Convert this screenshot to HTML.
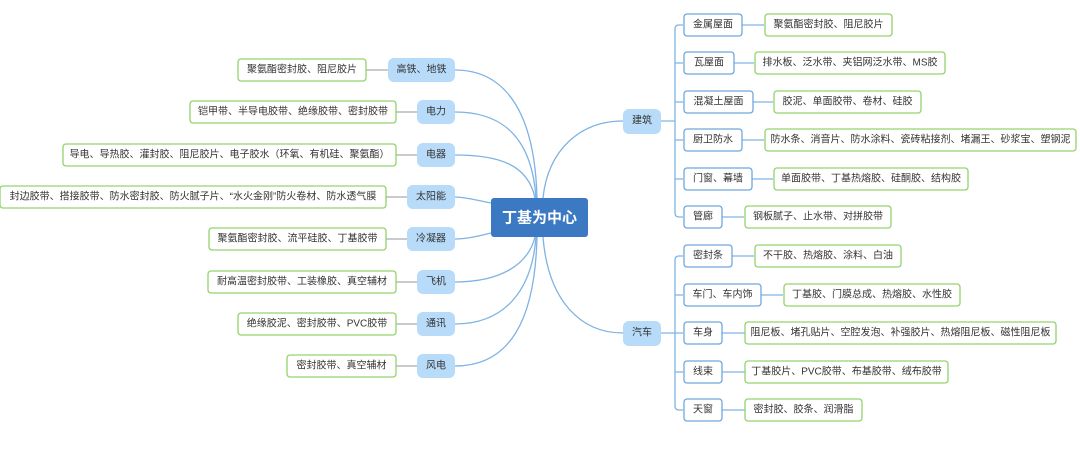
<!DOCTYPE html>
<html><head><meta charset="utf-8"><style>
html,body{margin:0;padding:0;background:#fff;}
svg{display:block;font-family:"Liberation Sans","Noto Sans CJK SC",sans-serif;}
.lf{fill:#fff;stroke:#93d36e;stroke-width:1.3;}
.sb{fill:#fff;stroke:#6fa8dc;stroke-width:1.3;}
.br{fill:#b7dbf8;}
.t{font-size:10px;fill:#333;dominant-baseline:central;text-anchor:middle;}
.c{fill:none;stroke:#7fb3e3;stroke-width:1.3;}
.g{stroke:#aaa;stroke-width:1.3;}
.bl{stroke:#7fb3e3;stroke-width:1.3;fill:none;}
</style></head><body>
<svg width="1080" height="458" viewBox="0 0 1080 458">
<path class="c" d="M537 198 C535 120 510 70 455 70"/>
<path class="c" d="M536 198 C532 140 505 112 455 112"/>
<path class="c" d="M535 198 C528 165 500 155 455 155"/>
<path class="c" d="M491 203 C475 200 465 197 455 197"/>
<path class="c" d="M491 233 C475 237 465 239 455 239"/>
<path class="c" d="M535 237 C528 265 500 282 455 282"/>
<path class="c" d="M536 237 C532 290 505 324 455 324"/>
<path class="c" d="M537 237 C535 320 510 366 455 366"/>
<path class="c" d="M543 198 C548 150 580 121 623 121"/>
<path class="c" d="M543 237 C548 300 580 333 623 333"/>
<line class="g" x1="366" y1="70" x2="388" y2="70"/>
<line class="g" x1="396" y1="112" x2="417" y2="112"/>
<line class="g" x1="396" y1="155" x2="417" y2="155"/>
<line class="g" x1="386" y1="197" x2="407" y2="197"/>
<line class="g" x1="386" y1="239" x2="407" y2="239"/>
<line class="g" x1="396" y1="282" x2="417" y2="282"/>
<line class="g" x1="396" y1="324" x2="417" y2="324"/>
<line class="g" x1="396" y1="366" x2="417" y2="366"/>
<path class="bl" d="M661 121 H675 M683 25 H679 Q675 25 675 29 V213 Q675 217 679 217 H683 M675 63 H683 M675 102 H683 M675 140 H683 M675 179 H683"/>
<path class="bl" d="M661 333 H675 M683 256 H679 Q675 256 675 260 V406 Q675 410 679 410 H683 M675 295 H683 M675 333 H683 M675 372 H683"/>
<path class="bl" d="M742 25 H764 M734 63 H754 M753 102 H773 M742 140 H764 M752 179 H773 M722 217 H744 M732 256 H754 M761 295 H783 M722 333 H745 M722 372 H745 M722 410 H745"/>
<rect x="491" y="198" width="97" height="39" rx="3" fill="#3b79c2"/>
<text x="539.5" y="218" font-size="15" font-weight="bold" fill="#fff" text-anchor="middle" dominant-baseline="central">丁基为中心</text>
<rect class="br" x="388" y="58" width="67" height="24" rx="6"/><text class="t" x="421.5" y="70">高铁、地铁</text>
<rect class="br" x="417" y="100" width="38" height="24" rx="6"/><text class="t" x="436" y="112">电力</text>
<rect class="br" x="417" y="143" width="38" height="24" rx="6"/><text class="t" x="436" y="155">电器</text>
<rect class="br" x="407" y="185" width="48" height="24" rx="6"/><text class="t" x="431" y="197">太阳能</text>
<rect class="br" x="407" y="227" width="48" height="24" rx="6"/><text class="t" x="431" y="239">冷凝器</text>
<rect class="br" x="417" y="270" width="38" height="24" rx="6"/><text class="t" x="436" y="282">飞机</text>
<rect class="br" x="417" y="312" width="38" height="24" rx="6"/><text class="t" x="436" y="324">通讯</text>
<rect class="br" x="417" y="354" width="38" height="24" rx="6"/><text class="t" x="436" y="366">风电</text>
<rect class="lf" x="238" y="59" width="128" height="22" rx="3"/><text class="t" x="302" y="70">聚氨酯密封胶、阻尼胶片</text>
<rect class="lf" x="190" y="101" width="206" height="22" rx="3"/><text class="t" x="293" y="112">铠甲带、半导电胶带、绝缘胶带、密封胶带</text>
<rect class="lf" x="63" y="144" width="333" height="22" rx="3"/><text class="t" x="229.5" y="155">导电、导热胶、灌封胶、阻尼胶片、电子胶水（环氧、有机硅、聚氨酯）</text>
<rect class="lf" x="0" y="186" width="386" height="22" rx="3"/><text class="t" x="193" y="197">封边胶带、搭接胶带、防水密封胶、防火腻子片、“水火金刚”防火卷材、防水透气膜</text>
<rect class="lf" x="209" y="228" width="177" height="22" rx="3"/><text class="t" x="297.5" y="239">聚氨酯密封胶、流平硅胶、丁基胶带</text>
<rect class="lf" x="208" y="271" width="188" height="22" rx="3"/><text class="t" x="302" y="282">耐高温密封胶带、工装橡胶、真空辅材</text>
<rect class="lf" x="238" y="313" width="158" height="22" rx="3"/><text class="t" x="317" y="324">绝缘胶泥、密封胶带、PVC胶带</text>
<rect class="lf" x="287" y="355" width="109" height="22" rx="3"/><text class="t" x="341.5" y="366">密封胶带、真空辅材</text>
<rect class="br" x="623" y="109" width="38" height="25" rx="6"/><text class="t" x="642" y="121">建筑</text>
<rect class="br" x="623" y="321" width="38" height="25" rx="6"/><text class="t" x="642" y="333">汽车</text>
<rect class="sb" x="684" y="14" width="58" height="22" rx="3"/><text class="t" x="713" y="25">金属屋面</text>
<rect class="sb" x="684" y="52" width="50" height="22" rx="3"/><text class="t" x="709" y="63">瓦屋面</text>
<rect class="sb" x="684" y="91" width="69" height="22" rx="3"/><text class="t" x="718.5" y="102">混凝土屋面</text>
<rect class="sb" x="684" y="129" width="58" height="22" rx="3"/><text class="t" x="713" y="140">厨卫防水</text>
<rect class="sb" x="684" y="168" width="68" height="22" rx="3"/><text class="t" x="718" y="179">门窗、幕墙</text>
<rect class="sb" x="684" y="206" width="38" height="22" rx="3"/><text class="t" x="703" y="217">管廊</text>
<rect class="sb" x="684" y="245" width="48" height="22" rx="3"/><text class="t" x="708" y="256">密封条</text>
<rect class="sb" x="684" y="284" width="77" height="22" rx="3"/><text class="t" x="722.5" y="295">车门、车内饰</text>
<rect class="sb" x="684" y="322" width="38" height="22" rx="3"/><text class="t" x="703" y="333">车身</text>
<rect class="sb" x="684" y="361" width="38" height="22" rx="3"/><text class="t" x="703" y="372">线束</text>
<rect class="sb" x="684" y="399" width="38" height="22" rx="3"/><text class="t" x="703" y="410">天窗</text>
<rect class="lf" x="765" y="14" width="127" height="22" rx="3"/><text class="t" x="828.5" y="25">聚氨酯密封胶、阻尼胶片</text>
<rect class="lf" x="755" y="52" width="190" height="22" rx="3"/><text class="t" x="850" y="63">排水板、泛水带、夹铝网泛水带、MS胶</text>
<rect class="lf" x="774" y="91" width="147" height="22" rx="3"/><text class="t" x="847.5" y="102">胶泥、单面胶带、卷材、硅胶</text>
<rect class="lf" x="765" y="129" width="311" height="22" rx="3"/><text class="t" x="920.5" y="140">防水条、消音片、防水涂料、瓷砖粘接剂、堵漏王、砂浆宝、塑钢泥</text>
<rect class="lf" x="774" y="168" width="194" height="22" rx="3"/><text class="t" x="871" y="179">单面胶带、丁基热熔胶、硅酮胶、结构胶</text>
<rect class="lf" x="745" y="206" width="146" height="22" rx="3"/><text class="t" x="818" y="217">钢板腻子、止水带、对拼胶带</text>
<rect class="lf" x="755" y="245" width="146" height="22" rx="3"/><text class="t" x="828" y="256">不干胶、热熔胶、涂料、白油</text>
<rect class="lf" x="784" y="284" width="176" height="22" rx="3"/><text class="t" x="872" y="295">丁基胶、门膜总成、热熔胶、水性胶</text>
<rect class="lf" x="745" y="322" width="311" height="22" rx="3"/><text class="t" x="900.5" y="333">阻尼板、堵孔贴片、空腔发泡、补强胶片、热熔阻尼板、磁性阻尼板</text>
<rect class="lf" x="745" y="361" width="203" height="22" rx="3"/><text class="t" x="846.5" y="372">丁基胶片、PVC胶带、布基胶带、绒布胶带</text>
<rect class="lf" x="745" y="399" width="117" height="22" rx="3"/><text class="t" x="803.5" y="410">密封胶、胶条、润滑脂</text>
</svg>
</body></html>
